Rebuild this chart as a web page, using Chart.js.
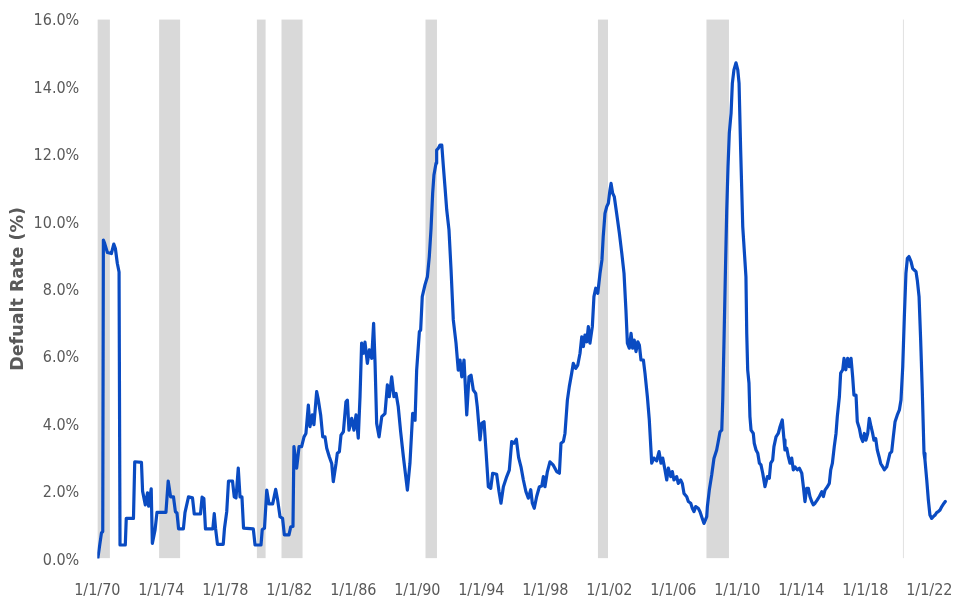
<!DOCTYPE html>
<html><head><meta charset="utf-8">
<script src="https://cdn.jsdelivr.net/npm/chart.js@4"></script>
<style>html,body{margin:0;padding:0;background:#fff;overflow:hidden}#wrap{position:relative;width:956px;height:600px}</style>
</head><body><div id="wrap"><canvas id="c"></canvas></div>
<script>
// Decimal-year positions of the monthly default-rate readings
const dates = [
1970.03,1970.26,1970.34,1970.38,1970.46,1970.63,1970.88,1971.03,1971.13,1971.25,1971.36,1971.42,1971.75,1971.81,
1972.26,1972.34,1972.76,1972.83,1973.0,1973.14,1973.21,1973.37,1973.44,1973.61,1973.73,1974.29,1974.43,1974.58,
1974.76,1974.88,1974.98,1975.08,1975.38,1975.48,1975.7,1975.95,1976.06,1976.45,1976.55,1976.66,1976.76,1977.22,
1977.31,1977.39,1977.51,1977.87,1977.95,1978.09,1978.2,1978.45,1978.56,1978.67,1978.81,1978.92,1979.04,1979.14,
1979.75,1979.86,1980.23,1980.31,1980.45,1980.59,1980.73,1980.96,1981.15,1981.27,1981.42,1981.58,1981.69,1981.98,
1982.09,1982.23,1982.29,1982.46,1982.61,1982.77,1982.92,1983.04,1983.19,1983.29,1983.44,1983.54,1983.71,1983.81,
1983.96,1984.09,1984.23,1984.34,1984.5,1984.65,1984.75,1984.92,1985.0,1985.13,1985.23,1985.38,1985.54,1985.63,
1985.73,1985.9,1986.04,1986.17,1986.31,1986.42,1986.52,1986.63,1986.73,1986.88,1987.0,1987.15,1987.27,1987.36,
1987.46,1987.61,1987.78,1987.98,1988.13,1988.25,1988.4,1988.54,1988.67,1988.81,1988.96,1989.13,1989.38,1989.54,
1989.71,1989.86,1989.96,1990.13,1990.21,1990.31,1990.48,1990.63,1990.75,1990.86,1990.96,1991.04,1991.17,1991.21,
1991.31,1991.42,1991.53,1991.63,1991.73,1991.84,1991.98,1992.11,1992.25,1992.42,1992.56,1992.67,1992.78,1992.92,
1993.09,1993.23,1993.36,1993.5,1993.65,1993.75,1993.92,1994.03,1994.17,1994.29,1994.44,1994.59,1994.71,1994.96,
1995.11,1995.23,1995.38,1995.59,1995.75,1995.9,1996.04,1996.19,1996.33,1996.48,1996.63,1996.79,1996.94,1997.09,
1997.19,1997.31,1997.46,1997.63,1997.78,1997.88,1997.98,1998.13,1998.29,1998.5,1998.71,1998.88,1998.98,1999.13,
1999.23,1999.38,1999.5,1999.65,1999.75,1999.9,2000.03,2000.17,2000.28,2000.38,2000.48,2000.59,2000.69,2000.79,
2000.94,2001.04,2001.15,2001.28,2001.42,2001.54,2001.62,2001.73,2001.84,2001.94,2002.04,2002.11,2002.21,2002.31,
2002.46,2002.63,2002.78,2002.92,2003.04,2003.13,2003.25,2003.36,2003.46,2003.56,2003.67,2003.78,2003.88,2003.98,
2004.13,2004.23,2004.38,2004.5,2004.65,2004.79,2004.96,2005.11,2005.23,2005.34,2005.48,2005.59,2005.69,2005.84,
2005.94,2006.04,2006.21,2006.31,2006.46,2006.56,2006.67,2006.84,2006.94,2007.09,2007.19,2007.29,2007.4,2007.56,
2007.67,2007.81,2007.92,2008.09,2008.13,2008.25,2008.4,2008.54,2008.71,2008.81,2008.92,2009.03,2009.09,2009.17,
2009.25,2009.34,2009.42,2009.5,2009.61,2009.69,2009.79,2009.92,2010.03,2010.11,2010.21,2010.34,2010.46,2010.54,
2010.59,2010.65,2010.73,2010.79,2010.86,2011.0,2011.06,2011.17,2011.28,2011.38,2011.48,2011.59,2011.73,2011.88,
2012.0,2012.09,2012.21,2012.29,2012.42,2012.56,2012.67,2012.81,2012.92,2012.98,2013.09,2013.19,2013.29,2013.4,
2013.5,2013.61,2013.75,2013.88,2014.03,2014.13,2014.23,2014.34,2014.44,2014.54,2014.65,2014.75,2014.86,2015.0,
2015.13,2015.28,2015.38,2015.48,2015.63,2015.75,2015.84,2015.94,2016.06,2016.17,2016.25,2016.38,2016.46,2016.59,
2016.67,2016.78,2016.9,2017.0,2017.11,2017.21,2017.29,2017.42,2017.5,2017.63,2017.73,2017.84,2017.94,2018.04,
2018.15,2018.25,2018.36,2018.46,2018.54,2018.65,2018.75,2018.86,2018.96,2019.09,2019.19,2019.34,2019.44,2019.54,
2019.65,2019.75,2019.86,2020.0,2020.13,2020.23,2020.34,2020.44,2020.54,2020.63,2020.73,2020.86,2020.96,2021.06,
2021.17,2021.25,2021.36,2021.46,2021.56,2021.67,2021.73,2021.84,2021.94,2022.04,2022.15,2022.25,2022.36,2022.46,
2022.56,2022.67,2022.78,2022.92,2023.0
];
// Default rate (%), same order as dates
const defaultRate = [
0.0,0.76,0.8,9.45,9.35,9.08,9.05,9.33,9.2,8.76,8.5,0.4,0.4,1.19,
1.19,2.87,2.85,2.0,1.59,1.95,1.55,2.07,0.45,0.85,1.37,1.37,2.3,1.83,
1.83,1.39,1.35,0.88,0.88,1.36,1.83,1.8,1.32,1.32,1.82,1.78,0.88,0.88,
1.33,0.9,0.42,0.42,0.9,1.39,2.3,2.3,1.83,1.8,2.68,1.83,1.83,0.9,
0.88,0.4,0.4,0.86,0.9,2.03,1.62,1.62,2.05,1.74,1.24,1.19,0.7,0.7,
0.94,0.95,3.32,2.68,3.32,3.32,3.61,3.71,4.55,3.91,4.26,3.97,4.95,4.72,
4.26,3.61,3.61,3.27,3.02,2.82,2.28,2.82,3.12,3.17,3.66,3.76,4.65,4.7,
3.81,4.16,3.81,4.26,3.57,4.8,6.39,6.09,6.42,5.79,6.19,5.94,6.98,5.79,
4.01,3.61,4.21,4.3,5.15,4.8,5.39,4.8,4.9,4.5,3.76,3.02,2.03,2.82,
4.31,4.1,5.59,6.73,6.78,7.77,8.12,8.36,8.96,9.8,10.84,11.38,11.73,12.12,
12.17,12.27,12.27,11.63,11.03,10.34,9.75,8.56,7.08,6.39,5.59,5.89,5.39,5.89,
4.26,5.39,5.44,5.0,4.9,4.5,3.52,4.01,4.06,3.22,2.13,2.08,2.53,2.5,
1.98,1.64,2.13,2.43,2.62,3.47,3.42,3.54,3.0,2.72,2.33,1.98,1.79,2.04,
1.64,1.49,1.84,2.13,2.15,2.43,2.13,2.58,2.87,2.77,2.58,2.53,3.42,3.47,
3.71,4.7,5.1,5.5,5.79,5.64,5.74,6.09,6.58,6.29,6.63,6.43,6.88,6.39,
6.88,7.77,8.02,7.87,8.46,8.86,9.55,10.24,10.44,10.54,10.93,11.13,10.84,10.74,
10.24,9.65,9.06,8.46,7.37,6.39,6.24,6.68,6.24,6.48,6.14,6.43,6.33,5.89,
5.89,5.5,4.8,4.11,2.83,2.98,2.9,3.17,2.83,2.98,2.63,2.33,2.68,2.43,
2.58,2.33,2.43,2.23,2.33,2.23,1.93,1.83,1.69,1.64,1.49,1.39,1.54,1.49,
1.39,1.19,1.04,1.24,1.54,2.03,2.48,2.97,3.22,3.47,3.76,3.81,4.7,6.48,
8.36,10.34,11.63,12.62,13.21,14.1,14.5,14.71,14.5,14.1,12.12,9.85,8.96,8.36,
6.68,5.59,5.2,4.21,3.81,3.71,3.42,3.22,3.12,2.83,2.78,2.53,2.13,2.43,
2.38,2.83,2.92,3.32,3.61,3.71,3.91,4.11,3.52,3.22,3.27,3.02,2.83,2.98,
2.63,2.72,2.63,2.68,2.53,2.13,1.69,2.08,2.08,1.84,1.69,1.59,1.64,1.74,
1.84,1.98,1.84,2.03,2.13,2.23,2.63,2.82,3.32,3.71,4.21,4.8,5.5,5.6,
5.94,5.6,5.94,5.69,5.94,5.39,4.85,4.85,4.06,3.86,3.61,3.47,3.71,3.51,
3.71,4.16,3.91,3.71,3.51,3.56,3.22,3.02,2.82,2.72,2.63,2.72,2.92,3.12,
3.17,3.61,4.06,4.26,4.41,4.7,5.69,7.17,8.46,8.91,8.96,8.81,8.61,8.56,
8.51,8.26,7.77,6.48,5.0,3.12,2.92,2.33,1.74,1.29,1.19,1.24,1.29,1.36,
1.39,1.44,1.54,1.64,1.69
];
// Shaded recession periods (decimal years)
const recessionStart = [1970.0, 1973.86, 1979.96, 1981.5, 1990.5, 2001.28, 2008.06, 2020.34];
const recessionEnd   = [1970.79, 1975.19, 1980.53, 1982.84, 1991.23, 2001.92, 2009.48, 2020.41];
// Axis ticks
const tickYears  = [1970,1974,1978,1982,1986,1990,1994,1998,2002,2006,2010,2014,2018,2022];
const tickLabels = ['1/1/70','1/1/74','1/1/78','1/1/82','1/1/86','1/1/90','1/1/94','1/1/98','1/1/02','1/1/06','1/1/10','1/1/14','1/1/18','1/1/22'];
const yTickValues = [0,2,4,6,8,10,12,14,16];
const yTitle = 'Defualt Rate (%)';

const tickFont = {family: "'DejaVu Sans Condensed', 'DejaVu Sans', sans-serif", size: 16};
const grey = '#595959';

const datasets = [{
  label: 'Default rate',
  data: dates.map((d, i) => ({x: d, y: defaultRate[i]})),
  borderColor: '#0A4BC2',
  borderWidth: 3.2,
  pointRadius: 0,
  tension: 0,
  fill: false,
  borderJoinStyle: 'round',
  borderCapStyle: 'round'
}];
recessionStart.forEach((s, i) => {
  datasets.push({
    label: 'Recession ' + (i + 1),
    data: [{x: s, y: 16}, {x: recessionEnd[i], y: 16}],
    borderWidth: 0,
    borderColor: 'rgba(0,0,0,0)',
    backgroundColor: '#D9D9D9',
    pointRadius: 0,
    fill: 'origin'
  });
});

new Chart(document.getElementById('c'), {
  type: 'line',
  data: {datasets},
  options: {
    responsive: true,
    maintainAspectRatio: false,
    animation: false,
    events: [],
    layout: {padding: {left: 0, right: 7.5, top: 19.3, bottom: 0}},
    plugins: {legend: {display: false}, tooltip: {enabled: false}},
    scales: {
      x: {
        type: 'linear',
        min: 1970,
        max: 2023.2,
        border: {display: false},
        grid: {display: false, drawTicks: false},
        afterBuildTicks: s => { s.ticks = tickYears.map(v => ({value: v})); },
        afterFit: s => { s.height = 41.5; s.paddingLeft = 0; s.paddingRight = 0; },
        ticks: {
          autoSkip: false, maxRotation: 0, minRotation: 0, padding: 22.5,
          color: grey, font: tickFont,
          callback: (v, i) => tickLabels[i]
        }
      },
      y: {
        min: 0,
        max: 16,
        border: {display: false},
        grid: {display: false, drawTicks: false},
        afterBuildTicks: s => { s.ticks = yTickValues.map(v => ({value: v})); },
        afterFit: s => { s.width = 97.3; s.paddingTop = 0; s.paddingBottom = 0; },
        ticks: {
          padding: 18, labelOffset: 2, color: grey, font: tickFont,
          callback: v => v.toFixed(1) + '%'
        },
        title: {
          display: true, text: yTitle, color: grey,
          font: {family: "'DejaVu Sans', sans-serif", size: 17.5, weight: 'bold'},
          padding: {top: 8, bottom: 0}
        }
      }
    }
  }
});
</script>
</body></html>
